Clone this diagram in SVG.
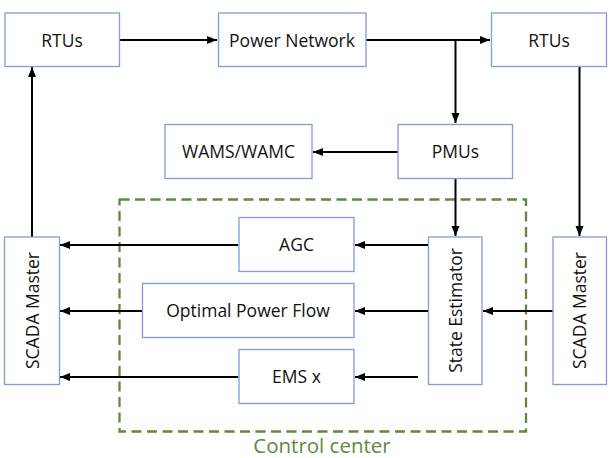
<svg xmlns="http://www.w3.org/2000/svg" width="612" height="458" viewBox="0 0 612 458">
<style>
.box{fill:#fff;stroke:#7f9fd3;stroke-width:1.3}
.t{font-family:"Open Sans",sans-serif;font-size:17.5px;fill:#111;text-anchor:middle}
.c{fill:none;stroke:#000;stroke-width:2}
</style>
<defs>
<marker id="ah" viewBox="0 0 10 10" refX="10" refY="5" markerWidth="5" markerHeight="5" orient="auto" markerUnits="strokeWidth">
<path d="M0,1 L10,5 L0,9 z" fill="#000"/>
</marker>
</defs>
<rect width="612" height="458" fill="#fff"/>
<g id="control-center">
<rect x="119.5" y="199.5" width="406.5" height="232" fill="none" stroke="#5e8b3d" stroke-width="2.3" stroke-dasharray="10,5.5"/>
<text x="322" y="452.5" font-family="'Open Sans',sans-serif" font-size="20.5" fill="#5e8b3d" text-anchor="middle">Control center</text>
</g>
<g id="connectors">
<path class="c" d="M120,40 H217" marker-end="url(#ah)"/>
<path class="c" d="M366,40 H490" marker-end="url(#ah)"/>
<path class="c" d="M455.5,40 V123" marker-end="url(#ah)"/>
<path class="c" d="M579.5,66 V236" marker-end="url(#ah)"/>
<path class="c" d="M32,237 V67" marker-end="url(#ah)"/>
<path class="c" d="M398,152 H313" marker-end="url(#ah)"/>
<path class="c" d="M455.5,178 V236" marker-end="url(#ah)"/>
<path class="c" d="M238.5,245 H60" marker-end="url(#ah)"/>
<path class="c" d="M428,245 H355" marker-end="url(#ah)"/>
<path class="c" d="M142,311 H60" marker-end="url(#ah)"/>
<path class="c" d="M428,311 H355" marker-end="url(#ah)"/>
<path class="c" d="M553,311 H483" marker-end="url(#ah)"/>
<path class="c" d="M238.5,377 H60" marker-end="url(#ah)"/>
<path class="c" d="M418,377 H355" marker-end="url(#ah)"/>
</g>
<g id="rtus-left"><rect class="box" x="5" y="13" width="114.5" height="53.5"/><text class="t" x="62" y="46.5">RTUs</text></g>
<g id="power-network"><rect class="box" x="218.5" y="13" width="147.5" height="53.5"/><text class="t" x="292" y="46.5">Power Network</text></g>
<g id="rtus-right"><rect class="box" x="491.5" y="13" width="115" height="53.5"/><text class="t" x="549" y="46.5">RTUs</text></g>
<g id="wams"><rect class="box" x="165" y="124.5" width="147" height="54"/><text class="t" x="238.5" y="158">WAMS/WAMC</text></g>
<g id="pmus"><rect class="box" x="398" y="124.5" width="114.5" height="54"/><text class="t" x="455.5" y="158">PMUs</text></g>
<g id="scada-left"><rect class="box" x="4.5" y="237" width="55" height="147.5"/><text class="t" transform="translate(38.5,310.5) rotate(-90)">SCADA Master</text></g>
<g id="agc"><rect class="box" x="239" y="217.5" width="115" height="54"/><text class="t" x="296.5" y="251">AGC</text></g>
<g id="opf"><rect class="box" x="142.5" y="283.5" width="211.5" height="54"/><text class="t" x="248" y="317">Optimal Power Flow</text></g>
<g id="ems"><rect class="box" x="239" y="349.5" width="115" height="54"/><text class="t" x="296.5" y="383">EMS x</text></g>
<g id="state-estimator"><rect class="box" x="428.5" y="237" width="53.5" height="147.5"/><text class="t" transform="translate(461.5,310.5) rotate(-90)">State Estimator</text></g>
<g id="scada-right"><rect class="box" x="553" y="237" width="53.5" height="147.5"/><text class="t" transform="translate(586,310.5) rotate(-90)">SCADA Master</text></g>
</svg>
